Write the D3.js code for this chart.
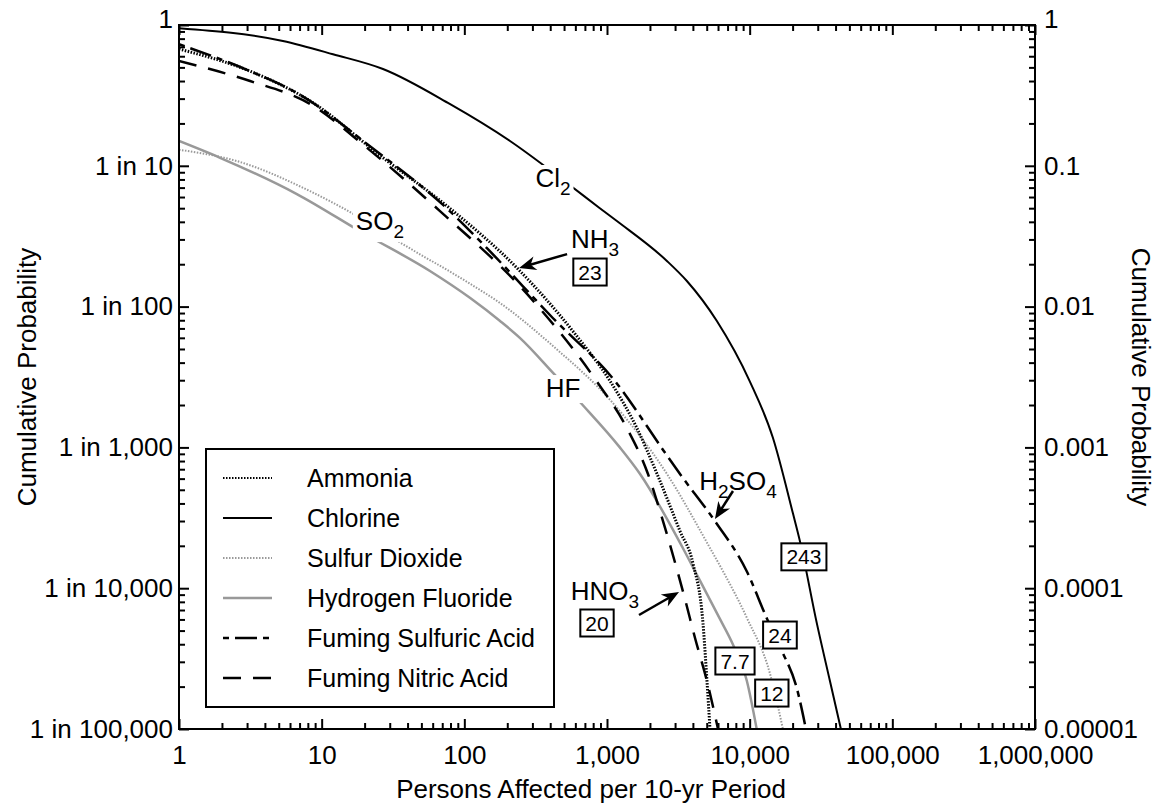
<!DOCTYPE html>
<html>
<head>
<meta charset="utf-8">
<script src="https://cdn.jsdelivr.net/npm/d3@7"></script>
<style>
  body { margin: 0; background: #fff; }
  text { font-family: "Liberation Sans", Arial, Helvetica, sans-serif; }
</style>
</head>
<body>
<div class="chart"></div>
<script>
var svgWidth = 1160;
var svgHeight = 805;
var margin = {top: 25, right: 125, bottom: 76, left: 179};
var width = svgWidth - margin.left - margin.right;
var height = svgHeight - margin.top - margin.bottom;

// tick values and labels
var xTickVals = [1, 10, 100, 1000, 10000, 100000, 1000000];
var xTickLabels = ["1", "10", "100", "1,000", "10,000", "100,000", "1,000,000"];
var yTickVals = [1, 0.1, 0.01, 0.001, 0.0001, 0.00001];
var yLeftLabels = ["1", "1 in 10", "1 in 100", "1 in 1,000", "1 in 10,000", "1 in 100,000"];
var yRightLabels = ["1", "0.1", "0.01", "0.001", "0.0001", "0.00001"];

// series
var seriesNames = ["Ammonia", "Chlorine", "Sulfur Dioxide", "Hydrogen Fluoride", "Fuming Sulfuric Acid", "Fuming Nitric Acid"];

var ammoniaX = [1, 3.15, 8.3, 26.9, 79, 234, 597, 1050, 1620, 2240, 3245, 4010, 4710, 5020, 5270];
var ammoniaY = [0.675, 0.47, 0.289, 0.114, 0.05, 0.0188, 0.0064, 0.00296, 0.00137, 0.00065, 0.000255, 0.000149, 0.000056, 0.000022, 0.00001];

var chlorineX = [1, 5.35, 12, 26.9, 79, 209, 524, 891, 1173, 2630, 3630, 5890, 10000, 14550, 20100, 22500, 29600, 36500, 43600];
var chlorineY = [0.95, 0.77, 0.62, 0.487, 0.275, 0.15, 0.0755, 0.05, 0.0405, 0.0211, 0.0152, 0.0079, 0.00296, 0.00117, 0.00034, 0.000216, 0.000056, 0.000022, 0.00001];

var so2X = [1, 2.55, 8.3, 17.7, 37, 110, 178, 418, 1084, 2635, 5270, 6500, 9570, 13900, 17100];
var so2Y = [0.13, 0.108, 0.066, 0.044, 0.0278, 0.0145, 0.0106, 0.00525, 0.0021, 0.000647, 0.000193, 0.000132, 0.0000614, 0.0000246, 0.00001];

var hfX = [1, 1.94, 6.7, 19.5, 57.4, 110, 178, 245, 417, 646, 1230, 1700, 3400, 4140, 6160, 7620, 9550, 11200];
var hfY = [0.15, 0.114, 0.063, 0.0333, 0.0179, 0.0115, 0.0079, 0.006, 0.0034, 0.0021, 0.001, 0.00065, 0.000193, 0.000132, 0.000061, 0.00004, 0.000022, 0.00001];

var sulfuricX = [1, 3.15, 7.05, 20.8, 79, 144, 417, 1137, 2508, 3240, 5700, 9540, 13200, 16800, 21400, 24800];
var sulfuricY = [0.73, 0.47, 0.32, 0.143, 0.0477, 0.026, 0.0083, 0.00296, 0.00094, 0.00065, 0.0003, 0.000132, 0.000061, 0.000036, 0.0000195, 0.00001];

var nitricX = [1, 3.15, 8.3, 20.8, 67.5, 275, 824, 1380, 1938, 2350, 3520, 4140, 5020, 6000];
var nitricY = [0.555, 0.40, 0.275, 0.134, 0.0477, 0.0123, 0.00306, 0.00137, 0.000647, 0.000353, 0.0000837, 0.0000443, 0.0000219, 0.00001];

// annotations, in data units
var labelNames = ["Cl2", "SO2", "HF", "NH3", "H2SO4", "HNO3"];
var labelX = [418, 25.6, 492, 824, 8280, 968];
var labelY = [0.0819, 0.0405, 0.00264, 0.0302, 0.000577, 0.0000955];
var labelOnLine = [true, true, true, false, false, false];

var boxText = ["23", "20", "243", "24", "7.7", "12"];
var boxX = [760, 851, 24000, 16300, 7890, 14300];
var boxY = [0.0176, 0.0000566, 0.000167, 0.0000465, 0.0000304, 0.000018];

var arrowFromX = [525, 7640, 1676];
var arrowFromY = [0.0236, 0.00049, 0.0000645];
var arrowToX = [242, 5710, 3197];
var arrowToY = [0.0188, 0.00031, 0.000094];

var seriesData = [
  d3.zip(ammoniaX, ammoniaY),
  d3.zip(chlorineX, chlorineY),
  d3.zip(so2X, so2Y),
  d3.zip(hfX, hfY),
  d3.zip(sulfuricX, sulfuricY),
  d3.zip(nitricX, nitricY)
];

var styles = {
  "Ammonia": {stroke: "#000", width: 3, dash: "1.5,1.5", offset: 0},
  "Chlorine": {stroke: "#000", width: 2, dash: null, offset: 0},
  "Sulfur Dioxide": {stroke: "#9a9a9a", width: 2, dash: "1.5,1.5", offset: 0},
  "Hydrogen Fluoride": {stroke: "#999", width: 2.5, dash: null, offset: 0},
  "Fuming Sulfuric Acid": {stroke: "#000", width: 2.5, dash: "22,6,6,6", offset: 28},
  "Fuming Nitric Acid": {stroke: "#000", width: 2.5, dash: "18,12", offset: 0}
};
var drawOrder = [2, 3, 1, 5, 4, 0];

var svg = d3.select(".chart")
  .append("svg")
  .attr("width", svgWidth)
  .attr("height", svgHeight);

var chartGroup = svg.append("g")
  .attr("transform", `translate(${margin.left},${margin.top})`);

var x = d3.scaleLog().domain([1, 1000000]).range([0, width]);
var y = d3.scaleLog().domain([0.00001, 1]).range([height, 0]);

// minor ticks 2..9 in each decade
var xMinor = [];
for (var p = 0; p < 6; p++) for (var k = 2; k < 10; k++) xMinor.push(k * Math.pow(10, p));
var yMinor = [];
for (var q = -5; q < 0; q++) for (var k2 = 2; k2 < 10; k2++) yMinor.push(k2 * Math.pow(10, q));

function styleAxis(g) {
  g.select(".domain").remove();
  g.selectAll("line").attr("stroke", "#000").attr("stroke-width", 2);
  g.selectAll("text").attr("font-size", 26).attr("fill", "#000")
    .attr("font-family", "Liberation Sans, Arial, sans-serif");
}

// minor ticks on all sides
chartGroup.append("g").attr("transform", `translate(0,${height})`)
  .call(d3.axisBottom(x).tickValues(xMinor).tickFormat("").tickSizeInner(-6).tickSizeOuter(0)).call(styleAxis);
chartGroup.append("g")
  .call(d3.axisTop(x).tickValues(xMinor).tickFormat("").tickSizeInner(-6).tickSizeOuter(0)).call(styleAxis);
chartGroup.append("g")
  .call(d3.axisLeft(y).tickValues(yMinor).tickFormat("").tickSizeInner(-6).tickSizeOuter(0)).call(styleAxis);
chartGroup.append("g").attr("transform", `translate(${width},0)`)
  .call(d3.axisRight(y).tickValues(yMinor).tickFormat("").tickSizeInner(-6).tickSizeOuter(0)).call(styleAxis);

// major ticks with labels
chartGroup.append("g").attr("transform", `translate(0,${height})`)
  .call(d3.axisBottom(x).tickValues(xTickVals).tickFormat((d, i) => xTickLabels[i]).tickSizeInner(-10).tickSizeOuter(0).tickPadding(17))
  .call(styleAxis);
chartGroup.append("g")
  .call(d3.axisTop(x).tickValues(xTickVals).tickFormat("").tickSizeInner(-10).tickSizeOuter(0))
  .call(styleAxis);
var leftAxis = chartGroup.append("g")
  .call(d3.axisLeft(y).tickValues(yTickVals).tickFormat((d, i) => yLeftLabels[i]).tickSizeInner(-10).tickSizeOuter(0).tickPadding(6))
  .call(styleAxis);
var rightAxis = chartGroup.append("g").attr("transform", `translate(${width},0)`)
  .call(d3.axisRight(y).tickValues(yTickVals).tickFormat((d, i) => yRightLabels[i]).tickSizeInner(-10).tickSizeOuter(0).tickPadding(9))
  .call(styleAxis);
// the top "1" labels sit a little higher than their tick
[leftAxis, rightAxis].forEach(function(a) {
  a.selectAll(".tick text").filter(d => d === 1).attr("y", -6);
});

// curves
svg.append("defs").append("clipPath").attr("id", "plotClip")
  .append("rect").attr("width", width).attr("height", height + 1);

var line = d3.line()
  .x(d => x(d[0]))
  .y(d => y(d[1]))
  .curve(d3.curveMonotoneX);

var curveGroup = chartGroup.append("g").attr("clip-path", "url(#plotClip)");
drawOrder.forEach(function(i) {
  var st = styles[seriesNames[i]];
  curveGroup.append("path")
    .datum(seriesData[i])
    .attr("d", line)
    .attr("fill", "none")
    .attr("stroke", st.stroke)
    .attr("stroke-width", st.width)
    .attr("stroke-dasharray", st.dash)
    .attr("stroke-dashoffset", st.offset);
});

// chemical labels with subscripts
function addFormula(g, name, cx, cy) {
  var t = g.append("text")
    .attr("x", cx).attr("y", cy + 9)
    .attr("text-anchor", "middle")
    .attr("font-size", 26);
  var parts = name.match(/[A-Za-z]+|\d+/g);
  var sub = false;
  parts.forEach(function(part) {
    var isNum = /\d/.test(part);
    var ts = t.append("tspan").text(part);
    if (isNum) { ts.attr("font-size", 19).attr("dy", 8); sub = true; }
    else if (sub) { ts.attr("dy", -8); sub = false; }
  });
  return t;
}

var annoGroup = chartGroup.append("g");
labelNames.forEach(function(name, i) {
  var g = annoGroup.append("g");
  var t = addFormula(g, name, x(labelX[i]), y(labelY[i]));
  if (labelOnLine[i]) {
    var bb = t.node().getBBox();
    g.insert("rect", "text")
      .attr("x", bb.x - 3).attr("y", bb.y + 2)
      .attr("width", bb.width + 6).attr("height", bb.height - 2)
      .attr("fill", "#fff");
  }
});

// boxed numbers
boxText.forEach(function(txt, i) {
  var g = annoGroup.append("g");
  var t = g.append("text")
    .attr("x", x(boxX[i])).attr("y", y(boxY[i]) + 7.5)
    .attr("text-anchor", "middle")
    .attr("font-size", 21)
    .text(txt);
  var w = t.node().getBBox().width + 10;
  g.insert("rect", "text")
    .attr("x", x(boxX[i]) - w / 2).attr("y", y(boxY[i]) - 13.5)
    .attr("width", w).attr("height", 27)
    .attr("fill", "#fff").attr("stroke", "#000").attr("stroke-width", 2);
});

// arrows
arrowFromX.forEach(function(fx, i) {
  var x0 = x(fx), y0 = y(arrowFromY[i]);
  var x1 = x(arrowToX[i]), y1 = y(arrowToY[i]);
  var ang = Math.atan2(y1 - y0, x1 - x0) * 180 / Math.PI;
  var len = Math.hypot(x1 - x0, y1 - y0);
  var g = annoGroup.append("g")
    .attr("transform", `translate(${x0},${y0}) rotate(${ang})`);
  g.append("line").attr("x1", 0).attr("y1", 0).attr("x2", len - 8).attr("y2", 0)
    .attr("stroke", "#000").attr("stroke-width", 2.5);
  g.append("path")
    .attr("d", `M${len},0 L${len - 17},-7 L${len - 12},0 L${len - 17},7 Z`)
    .attr("fill", "#000");
});

// legend
var legend = chartGroup.append("g")
  .attr("transform", `translate(${206 - margin.left},${449 - margin.top})`);
legend.append("rect")
  .attr("width", 348).attr("height", 258)
  .attr("fill", "#fff").attr("stroke", "#000").attr("stroke-width", 2);
seriesNames.forEach(function(name, i) {
  var st = styles[name];
  var ly = 29 + i * 40;
  legend.append("line")
    .attr("x1", 17).attr("x2", 66).attr("y1", ly).attr("y2", ly)
    .attr("stroke", st.stroke)
    .attr("stroke-width", name === "Ammonia" ? 2 : st.width)
    .attr("stroke-dasharray", st.dash)
    .attr("stroke-dashoffset", st.offset);
  legend.append("text")
    .attr("x", 101).attr("y", ly).attr("dy", "0.35em")
    .attr("font-size", 25)
    .text(name);
});

// axis titles
svg.append("text")
  .attr("transform", `translate(27,${margin.top + height / 2}) rotate(-90)`)
  .attr("text-anchor", "middle").attr("dy", "0.35em")
  .attr("font-size", 26)
  .text("Cumulative Probability");

svg.append("text")
  .attr("transform", `translate(1141,${margin.top + height / 2}) rotate(90)`)
  .attr("text-anchor", "middle").attr("dy", "0.35em")
  .attr("font-size", 26)
  .text("Cumulative Probability");

svg.append("text")
  .attr("x", 591).attr("y", 798)
  .attr("text-anchor", "middle")
  .attr("font-size", 26)
  .text("Persons Affected per 10-yr Period");

// frame
chartGroup.append("rect")
  .attr("width", width).attr("height", height)
  .attr("fill", "none").attr("stroke", "#000").attr("stroke-width", 2);
</script>
</body>
</html>
